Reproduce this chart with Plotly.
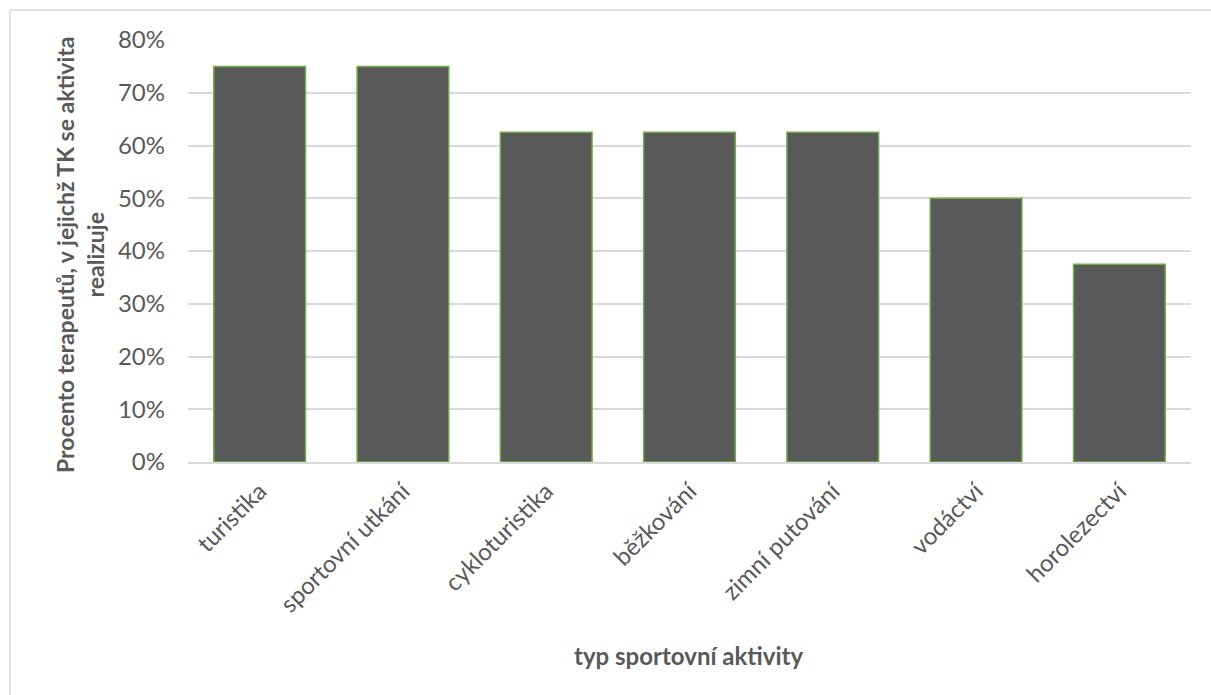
import plotly.graph_objects as go

categories = ["turistika", "sportovní utkání", "cykloturistika", "běžkování",
              "zimní putování", "vodáctví", "horolezectví"]
values = [0.75, 0.75, 0.625, 0.625, 0.625, 0.50, 0.375]
y_ticks = [0, 0.1, 0.2, 0.3, 0.4, 0.5, 0.6, 0.7, 0.8]

FONT = "Lato"
TXT = "#595959"
FS = 24

fig = go.Figure()
fig.add_trace(go.Bar(
    x=categories, y=values,
    marker=dict(color="#595959", line=dict(color="#70AD47", width=1.5)),
    width=0.64,
))

L, R, T, B = 188, 20, 40, 233
W, H = 1211, 695
pw, ph = W - L - R, H - T - B

fig.update_layout(
    width=W, height=H,
    margin=dict(l=L, r=R, t=T, b=B),
    paper_bgcolor="white", plot_bgcolor="white",
    font=dict(family=FONT, color=TXT, size=FS),
    showlegend=False,
    xaxis=dict(
        tickangle=-45, tickfont=dict(size=FS, color=TXT, family=FONT),
        showline=True, linecolor="#d9d9d9", linewidth=1.5,
        showgrid=False, ticks="", ticklabelstandoff=4,
        automargin=False,
    ),
    yaxis=dict(
        range=[0, 0.8], tickvals=y_ticks, tickformat=".0%",
        tickfont=dict(size=FS, color=TXT, family=FONT),
        showgrid=True, gridcolor="#d9d9d9", gridwidth=1.5,
        zeroline=False, ticks="", ticklabelstandoff=22,
        automargin=False,
    ),
    annotations=[
        dict(text="<b>typ sportovní aktivity</b>", xref="paper", yref="paper",
             x=(689 - L) / pw, y=-(655 - T - ph) / ph, xanchor="center", yanchor="middle",
             showarrow=False, font=dict(size=FS, color=TXT, family=FONT)),
        dict(text="<b>Procento terapeutů, v jejichž TK se aktivita<br>realizuje</b>",
             xref="paper", yref="paper", textangle=-90,
             x=(80 - L) / pw, y=1 - (255 - T) / ph, xanchor="center", yanchor="middle",
             showarrow=False, font=dict(size=23, color=TXT, family=FONT)),
    ],
    shapes=[dict(
        type="rect", xref="paper", yref="paper",
        x0=(10 - L) / pw, x1=(W + 5 - L) / pw,
        y0=-(H + 5 - T - ph) / ph, y1=1 + (T - 10) / ph,
        line=dict(color="#d9d9d9", width=1.5), fillcolor="rgba(0,0,0,0)", layer="below",
    )],
)

fig.write_html("out.html")
